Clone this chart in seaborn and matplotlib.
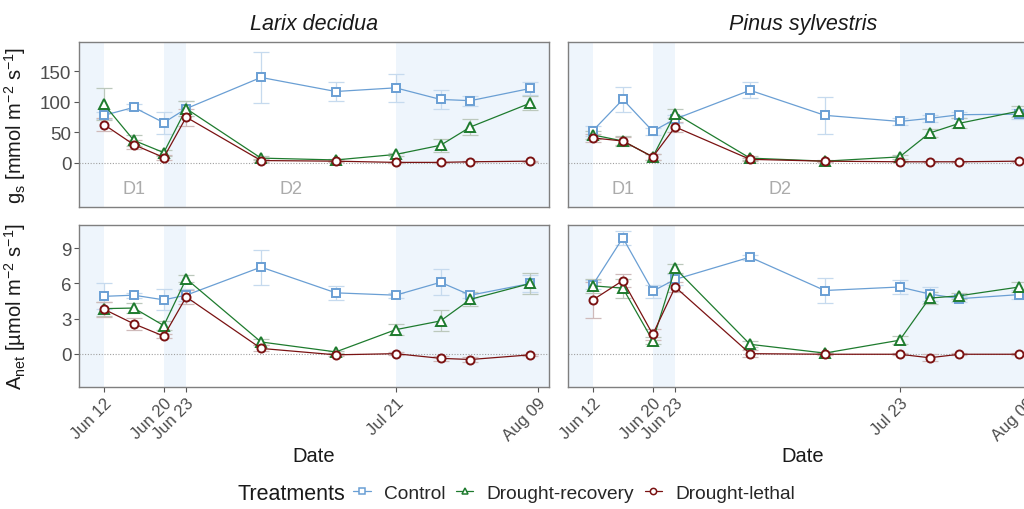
import numpy as np
import pandas as pd
import matplotlib
matplotlib.use("Agg")
import matplotlib.pyplot as plt
from matplotlib.lines import Line2D
import seaborn as sns

# ---- data -------------------------------------------------------------
species = ["Larix decidua", "Pinus sylvestris"]
treatments = ["Control", "Drought-recovery", "Drought-lethal"]

larix_dates = ["2019-06-12", "2019-06-16", "2019-06-20", "2019-06-23", "2019-07-03",
               "2019-07-13", "2019-07-21", "2019-07-27", "2019-07-31", "2019-08-08"]
pinus_dates = ["2019-06-12", "2019-06-16", "2019-06-20", "2019-06-23", "2019-07-03",
               "2019-07-13", "2019-07-23", "2019-07-27", "2019-07-31", "2019-08-08"]

larix_ticks = ["2019-06-12", "2019-06-20", "2019-06-23", "2019-07-21", "2019-08-09"]
pinus_ticks = ["2019-06-12", "2019-06-20", "2019-06-23", "2019-07-23", "2019-08-09"]

# stomatal conductance (mean, SE)
larix_gs_control = [78, 91, 66, 89, 140, 117, 123, 104, 102, 122]
larix_gs_control_se = [6, 5, 18, 12, 42, 15, 23, 16, 8, 10]
larix_gs_recovery = [96, 37, 17, 89, 8, 5, 14, 29, 59, 98]
larix_gs_recovery_se = [26, 9, 5, 12, 3, 2, 3, 11, 13, 11]
larix_gs_lethal = [63, 30, 9, 75, 4, 3, 1, 1, 2, 3]
larix_gs_lethal_se = [10, 7, 4, 14, 2, 1, 1, 1, 1, 1]

pinus_gs_control = [53, 104, 52, 72, 119, 78, 68, 73, 79, 80]
pinus_gs_control_se = [8, 20, 6, 6, 13, 30, 5, 6, 5, 8]
pinus_gs_recovery = [46, 36, 10, 81, 8, 3, 10, 49, 65, 85]
pinus_gs_recovery_se = [7, 8, 5, 8, 3, 2, 3, 7, 8, 9]
pinus_gs_lethal = [41, 36, 10, 59, 6, 3, 2, 2, 2, 3]
pinus_gs_lethal_se = [7, 6, 5, 8, 2, 1, 1, 1, 1, 1]

# net assimilation (mean, SE)
larix_an_control = [4.9, 5.0, 4.6, 5.0, 7.4, 5.2, 5.0, 6.1, 5.0, 6.0]
larix_an_control_se = [1.1, 0.2, 0.9, 0.5, 1.5, 0.6, 0.2, 1.1, 0.2, 0.7]
larix_an_recovery = [3.85, 3.9, 2.4, 6.4, 1.0, 0.15, 2.05, 2.8, 4.65, 6.0]
larix_an_recovery_se = [0.6, 0.45, 0.4, 0.3, 0.25, 0.1, 0.45, 0.9, 0.6, 0.9]
larix_an_lethal = [3.8, 2.55, 1.5, 4.85, 0.45, -0.1, 0.0, -0.4, -0.5, -0.1]
larix_an_lethal_se = [0.65, 0.5, 0.2, 0.6, 0.25, 0.1, 0.1, 0.2, 0.2, 0.1]

pinus_an_control = [5.9, 9.9, 5.35, 6.35, 8.25, 5.4, 5.7, 5.1, 4.7, 5.05]
pinus_an_control_se = [0.4, 0.6, 0.55, 0.5, 0.2, 1.1, 0.6, 0.6, 0.25, 0.4]
pinus_an_recovery = [5.8, 5.6, 1.1, 7.3, 0.8, 0.05, 1.15, 4.75, 4.95, 5.7]
pinus_an_recovery_se = [0.6, 0.8, 0.3, 0.4, 0.25, 0.1, 0.35, 0.5, 0.25, 0.4]
pinus_an_lethal = [4.6, 6.25, 1.65, 5.7, 0.0, -0.05, -0.05, -0.35, -0.05, -0.05]
pinus_an_lethal_se = [1.55, 0.55, 0.45, 0.45, 0.3, 0.1, 0.1, 0.3, 0.1, 0.1]

# drought phases
phase_labels = ["D1", "D2"]
phase_label_dates = ["2019-06-16", "2019-07-07"]
larix_rewet = [("2019-06-20", "2019-06-23"), ("2019-07-21", None)]
pinus_rewet = [("2019-06-20", "2019-06-23"), ("2019-07-23", None)]

# ---- style ------------------------------------------------------------
sns.set_theme(style="white")
plt.rcParams["font.family"] = ["Liberation Sans", "DejaVu Sans"]
plt.rcParams["mathtext.fontset"] = "custom"
plt.rcParams["mathtext.rm"] = "Liberation Sans"
plt.rcParams["mathtext.it"] = "Liberation Sans:italic"

colors = {"Control": "#6A9FD4", "Drought-recovery": "#1E7B2E", "Drought-lethal": "#7A1212"}
err_colors = {"Control": "#C6DAEE", "Drought-recovery": "#BCC8BC", "Drought-lethal": "#CFBABA"}
markers = {"Control": "s", "Drought-recovery": "^", "Drought-lethal": "o"}
msizes = {"Control": 5.2, "Drought-recovery": 6.6, "Drought-lethal": 5.8}
shade = "#EEF5FC"
tick_gray = "#4D4D4D"

series = {
    ("Larix decidua", "gs"): (larix_dates,
        [(larix_gs_control, larix_gs_control_se), (larix_gs_recovery, larix_gs_recovery_se),
         (larix_gs_lethal, larix_gs_lethal_se)]),
    ("Pinus sylvestris", "gs"): (pinus_dates,
        [(pinus_gs_control, pinus_gs_control_se), (pinus_gs_recovery, pinus_gs_recovery_se),
         (pinus_gs_lethal, pinus_gs_lethal_se)]),
    ("Larix decidua", "an"): (larix_dates,
        [(larix_an_control, larix_an_control_se), (larix_an_recovery, larix_an_recovery_se),
         (larix_an_lethal, larix_an_lethal_se)]),
    ("Pinus sylvestris", "an"): (pinus_dates,
        [(pinus_an_control, pinus_an_control_se), (pinus_an_recovery, pinus_an_recovery_se),
         (pinus_an_lethal, pinus_an_lethal_se)]),
}
ticks = {"Larix decidua": larix_ticks, "Pinus sylvestris": pinus_ticks}
rewet = {"Larix decidua": larix_rewet, "Pinus sylvestris": pinus_rewet}

ylims = {"gs": (-72, 198), "an": (-2.85, 11.0)}
yticks = {"gs": [0, 50, 100, 150], "an": [0, 3, 6, 9]}
ylabels = {"gs": "g$_\\mathrm{s}$ [mmol m$^{-2}$ s$^{-1}$]",
           "an": "A$_\\mathrm{net}$ [µmol m$^{-2}$ s$^{-1}$]"}

xmin = pd.Timestamp("2019-06-08 16:00")
xmax = pd.Timestamp("2019-08-10 12:00")

fig = plt.figure(figsize=(10.24, 5.10), dpi=100)
W, H = 1024, 510
panel_w = 470
rows = {"gs": (43, 208), "an": (226, 388)}
cols = {"Larix decidua": 79, "Pinus sylvestris": 568}

axes = {}
for sp in species:
    for var in ["gs", "an"]:
        top, bot = rows[var]
        left = cols[sp]
        ax = fig.add_axes([left / W, 1 - bot / H, panel_w / W, (bot - top) / H])
        axes[(sp, var)] = ax
        dates, vals = series[(sp, var)]
        d = pd.to_datetime(dates)

        # background windows
        ax.axvspan(xmin, pd.Timestamp(ticks[sp][0]), color=shade, lw=0, zorder=0)
        for a, b in rewet[sp]:
            ax.axvspan(pd.Timestamp(a), pd.Timestamp(b) if b else xmax, color=shade, lw=0, zorder=0)

        ax.axhline(0, color="#A0A0A0", lw=0.8, ls=(0, (1, 1.5)), zorder=1)

        for tr, (m, se) in zip(treatments, vals):
            ax.errorbar(d, m, yerr=se, fmt="none", ecolor=err_colors[tr],
                        elinewidth=0.9, capsize=5.5, capthick=0.9, zorder=2)
        for tr, (m, se) in zip(treatments, vals):
            df = pd.DataFrame({"Date": d, "value": m})
            sns.lineplot(data=df, x="Date", y="value", ax=ax, color=colors[tr],
                         lw=0.9, marker=markers[tr], markersize=msizes[tr],
                         markerfacecolor="white", markeredgecolor=colors[tr],
                         markeredgewidth=1.4, errorbar=None, zorder=3)

        if var == "gs":
            for lab, ld in zip(phase_labels, phase_label_dates):
                ax.text(pd.Timestamp(ld), -42, lab, color="#ABABAB", fontsize=13,
                        ha="center", va="center")

        ax.set_xlim(xmin, xmax)
        ax.set_ylim(*ylims[var])
        ax.set_yticks(yticks[var])
        ax.set_xticks(pd.to_datetime(ticks[sp]))
        for s in ax.spines.values():
            s.set_color("#7F7F7F")
            s.set_linewidth(1.0)
        ax.set_xlabel("")
        ax.set_ylabel("")
        ax.tick_params(axis="both", colors="#555555", labelcolor=tick_gray,
                       labelsize=13.5, length=3.5, width=0.8, direction="out")
        if var == "gs":
            ax.tick_params(axis="x", bottom=False, labelbottom=False)
        else:
            ax.tick_params(axis="x", bottom=True, labelbottom=True, pad=2)
            ax.set_xticklabels([pd.Timestamp(t).strftime("%b %d") for t in ticks[sp]],
                               rotation=45, ha="right", rotation_mode="anchor", fontsize=12)
            ax.set_xlabel("Date", fontsize=14.5, color="#1A1A1A", labelpad=2)
        if sp == "Larix decidua":
            ax.tick_params(axis="y", left=True, labelleft=True, pad=2)
            ax.set_ylabel(ylabels[var], fontsize=14.5, color="#1A1A1A", labelpad=6)
        else:
            ax.tick_params(axis="y", left=False, labelleft=False)
        if var == "gs":
            ax.set_title(sp, fontsize=15.5, style="italic", color="#1A1A1A", pad=9)
        ax.grid(False)

# align y labels horizontally
for var in ["gs", "an"]:
    axes[("Larix decidua", var)].yaxis.set_label_coords(-0.108, 0.5)

# legend along the bottom
handles = [Line2D([0], [0], color=colors[t], lw=0.9, marker=markers[t], markersize=4.5,
                  markerfacecolor="white", markeredgecolor=colors[t], markeredgewidth=1.1)
           for t in treatments]
fig.text(0.232, 0.031, "Treatments", fontsize=15.5, color="#1A1A1A", ha="left", va="center")
fig.legend(handles, treatments, loc="center left", bbox_to_anchor=(0.345, 0.031),
           ncol=3, frameon=False, fontsize=13.8, handlelength=0.9, handletextpad=0.7,
           columnspacing=0.55, borderaxespad=0, borderpad=0)

fig.savefig("out.png", dpi=100)
